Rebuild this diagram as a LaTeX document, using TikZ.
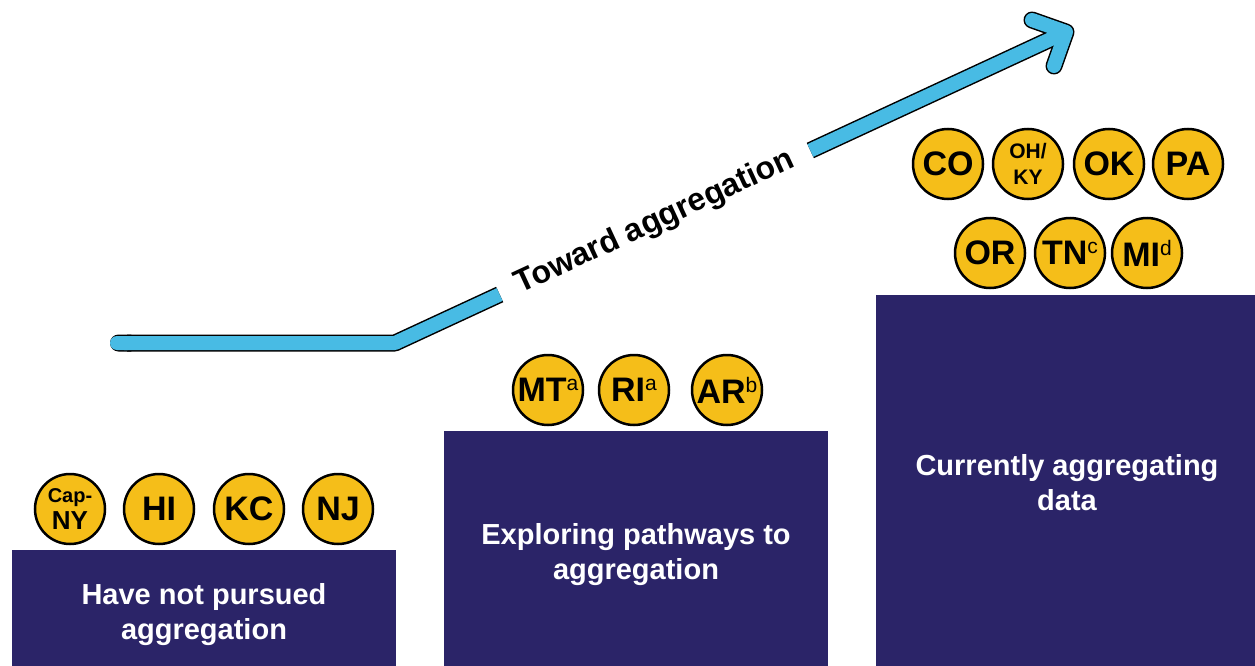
\documentclass[tikz,border=0pt]{standalone}
\usepackage{fontspec}
\setmainfont{Liberation Sans}
\usetikzlibrary{arrows.meta}
\definecolor{navy}{RGB}{43,36,104}
\definecolor{gold}{RGB}{245,190,25}
\definecolor{sky}{RGB}{72,187,228}
\newcommand{\fnmark}[1]{\raisebox{11pt}{\mdseries\fontsize{21}{21}\selectfont #1}}
\tikzset{site/.style={circle,draw=black,line width=2.5pt,fill=gold,minimum size=70pt,inner sep=0pt,
        font=\bfseries\fontsize{34}{34}\selectfont}}
\tikzset{stage/.style={align=center,text=white,font=\bfseries\fontsize{29}{35}\selectfont}}
\tikzset{small/.style={align=center,font=\bfseries\fontsize{21}{26}\selectfont}}

\begin{document}
\begin{tikzpicture}[x=1pt,y=-1pt]
        \useasboundingbox (0,0) rectangle (1255,666);
        % the three steps
        \fill[navy] (12,550) rectangle (396,666);
        \fill[navy] (444,431) rectangle (828,666);
        \fill[navy] (876,295) rectangle (1255,666);

        \node[stage] (none) at (204,615) {Have not pursued\\aggregation};
        \node[stage] (explore) at (636,555) {Exploring pathways to\\aggregation};
        \node[stage] (current) at (1067,483) {Currently aggregating\\data};

        \node[site,small,font=\bfseries\fontsize{26}{27}\selectfont] (capny) at (70,509) {{\fontsize{20}{20}\selectfont Cap-}\\NY};
        \node[site] (hi) at (159,509) {HI};
        \node[site] (kc) at (249,509) {KC};
        \node[site] (nj) at (338,509) {NJ};

        \node[site] (mt) at (548,390) {MT\fnmark{a}};
        \node[site] (ri) at (634,390) {RI\fnmark{a}};
        \node[site] (ar) at (727,390) {AR\fnmark{b}};

        \node[site] (co) at (948,164) {CO};
        \node[site,small] (ohky) at (1028,164) {OH/\\KY};
        \node[site] (ok) at (1109,164) {OK};
        \node[site] (pa) at (1188,164) {PA};
        \node[site] (or) at (990,253) {OR};
        \node[site] (tn) at (1070,253) {TN\fnmark{c}};
        \node[site] (mi) at (1147,253) {MI\fnmark{d}};

        % arrow, outline first
        \coordinate (start) at (110,343);
        \coordinate (bend) at (395,343);
        \coordinate (tip) at (1066,32);
        \coordinate (barbl) at (1032,20);
        \coordinate (barbr) at (1054,66);
        \node[rotate=24.87,minimum width=342pt,inner sep=0pt,font=\bfseries\fontsize{32}{32}\selectfont] (toward) at (655,222.5) {Toward aggregation};
        \foreach \col/\wd in {black/17,sky/14}{
            \draw[draw=\col,line width=\wd pt,line join=round,{Round Cap[]}-] (start) -- (bend) -- (toward.west);
            \draw[draw=\col,line width=\wd pt] (toward.east) -- (tip);
            \draw[draw=\col,line width=\wd pt,line join=round,line cap=round] (barbl) -- (tip) -- (barbr);
        }
    \end{tikzpicture}
\end{document}
